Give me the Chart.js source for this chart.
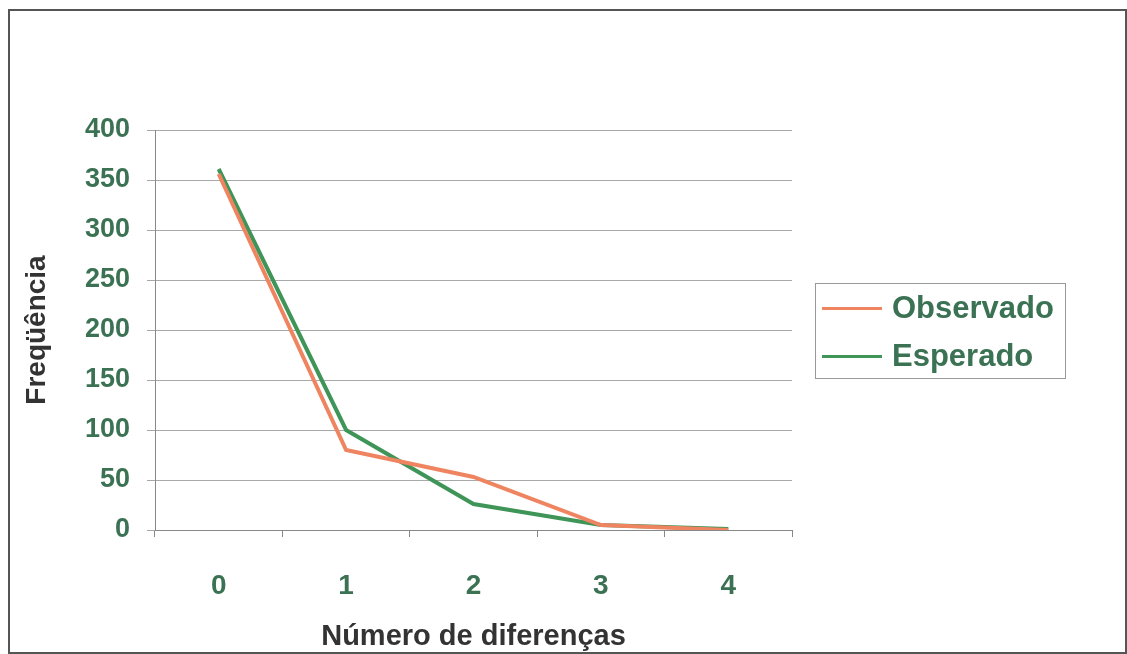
<!DOCTYPE html>
<html>
<head>
<meta charset="utf-8">
<script src="https://cdn.jsdelivr.net/npm/chart.js@4"></script>
<style>
  html, body { margin: 0; padding: 0; background: #fff; }
  #wrap { position: relative; width: 1127px; height: 654px; overflow: hidden; }
  #frame { position: absolute; left: 8px; top: 9px; width: 1115px; height: 641px; border: 2px solid #555; }
  #chart { position: absolute; left: 0; top: 0; }
  #legend {
    position: absolute; left: 815px; top: 283px; width: 249px; height: 94px;
    border: 1px solid #999; font: bold 31px "Liberation Sans", Arial, sans-serif; color: #3b7253;
  }
  #legend div { display: flex; align-items: center; height: 48px; }
  #legend span.line { display: inline-block; width: 60px; height: 3px; margin: 0 10px 0 6px; }
</style>
</head>
<body>
<div id="wrap">
  <div id="frame"></div>
  <canvas id="chart" width="1127" height="654"></canvas>
  <div id="legend"></div>
</div>
<script>
const categories = ['0', '1', '2', '3', '4'];
const observado = [356, 80, 53, 5, 0];
const esperado = [361, 100, 26, 5, 1];
const seriesNames = ['Observado', 'Esperado'];
const seriesColors = ['#ef8460', '#3f9558'];

const textGreen = '#3b7253';
const font = '"Liberation Sans", Arial, sans-serif';

const ctx = document.querySelector('#chart');
const chart = new Chart(ctx, {
  type: 'line',
  data: {
    labels: categories,
    datasets: [
      {
        label: seriesNames[0],
        data: observado,
        borderColor: seriesColors[0],
        backgroundColor: seriesColors[0],
        borderWidth: 4,
        pointRadius: 0,
        tension: 0,
      },
      {
        label: seriesNames[1],
        data: esperado,
        borderColor: seriesColors[1],
        backgroundColor: seriesColors[1],
        borderWidth: 4,
        pointRadius: 0,
        tension: 0,
      },
    ],
  },
  options: {
    responsive: false,
    animation: false,
    layout: { padding: { top: 130, right: 335, bottom: 0, left: 0 } },
    plugins: {
      legend: { display: false },
      tooltip: { enabled: false },
    },
    scales: {
      x: {
        offset: true,
        grid: { offset: true, drawOnChartArea: false, tickLength: 7, color: '#888' },
        border: { color: '#888' },
        ticks: { color: textGreen, font: { family: font, size: 28, weight: 'bold' }, padding: 32 },
        title: {
          display: true,
          text: 'Número de diferenças',
          color: '#333',
          font: { family: font, size: 29, weight: 'bold' },
          padding: { top: 0, bottom: 0 },
        },
        afterFit: (scale) => { scale.height = 124; },
      },
      y: {
        min: 0,
        max: 400,
        ticks: { stepSize: 50, color: textGreen, font: { family: font, size: 27, weight: 'bold' }, padding: 17 },
        grid: { color: '#a8a8a8', tickLength: 8 },
        border: { color: '#888' },
        title: {
          display: true,
          text: 'Freqüência',
          color: '#333',
          font: { family: font, size: 28, weight: 'bold' },
          padding: { top: 20, bottom: 0 },
        },
        afterFit: (scale) => { scale.width = 155; },
      },
    },
  },
});

// legend box built from the dataset names and colours
const legend = document.querySelector('#legend');
chart.data.datasets.forEach((ds) => {
  const row = document.createElement('div');
  const line = document.createElement('span');
  line.className = 'line';
  line.style.background = ds.borderColor;
  row.appendChild(line);
  row.appendChild(document.createTextNode(ds.label));
  legend.appendChild(row);
});
</script>
</body>
</html>
